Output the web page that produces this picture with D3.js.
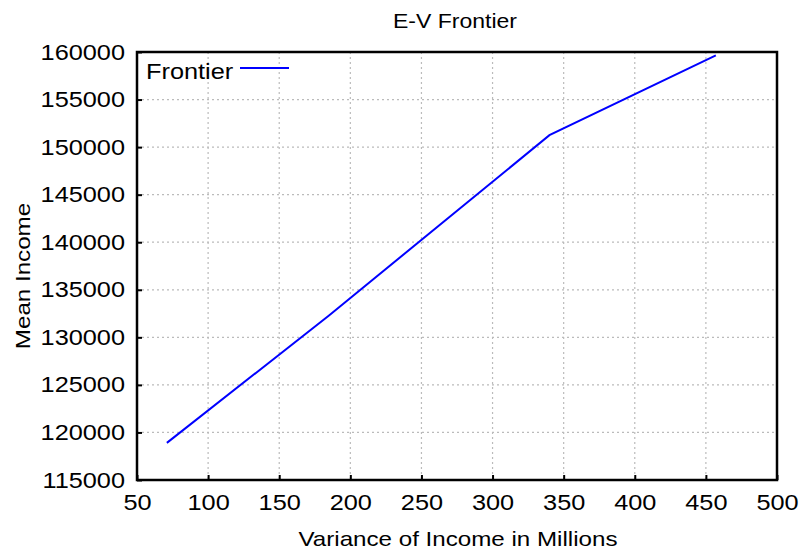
<!DOCTYPE html>
<html>
<head>
<meta charset="utf-8">
<script src="https://cdn.jsdelivr.net/npm/d3@7"></script>
<style>
  body { margin: 0; background: #fff; }
  text { font-family: "Liberation Sans", Arial, sans-serif; fill: #000; }
</style>
</head>
<body>
<svg id="chart" width="800" height="552"></svg>
<script>
const variance = [71, 185, 340, 457];
const meanIncome = [118900, 132300, 151250, 159650];
const xTicks = [50, 100, 150, 200, 250, 300, 350, 400, 450, 500];
const yTicks = [115000, 120000, 125000, 130000, 135000, 140000, 145000, 150000, 155000, 160000];
const seriesName = "Frontier";
const titleText = "E-V Frontier";
const xLabel = "Variance of Income in Millions";
const yLabel = "Mean Income";

const svg = d3.select("#chart");
const m = { left: 137, right: 777, top: 52, bottom: 480 };
const x = d3.scaleLinear().domain([50, 500]).range([m.left, m.right]);
const y = d3.scaleLinear().domain([115000, 160000]).range([m.bottom, m.top]);

// grid
const grid = svg.append("g");
grid.selectAll(".vg").data(xTicks.slice(1, -1)).enter().append("line")
  .attr("x1", d => x(d)).attr("x2", d => x(d))
  .attr("y1", m.top).attr("y2", m.bottom)
  .attr("stroke", "#bbbbbb").attr("stroke-width", 1.2).attr("stroke-dasharray", "2,3");
grid.selectAll(".hg").data(yTicks.slice(1, -1)).enter().append("line")
  .attr("y1", d => y(d)).attr("y2", d => y(d))
  .attr("x1", m.left).attr("x2", m.right)
  .attr("stroke", "#bbbbbb").attr("stroke-width", 1.2).attr("stroke-dasharray", "2,3");

// axes with inward ticks
const fmt = d3.format("d");
const xAxis = d3.axisBottom(x).tickValues(xTicks).tickFormat(fmt).tickSizeInner(-5).tickSizeOuter(0).tickPadding(14);
const yAxis = d3.axisLeft(y).tickValues(yTicks).tickFormat(fmt).tickSizeInner(-5).tickSizeOuter(0).tickPadding(12);
const gx = svg.append("g").attr("transform", `translate(0,${m.bottom})`).call(xAxis);
const gy = svg.append("g").attr("transform", `translate(${m.left},0)`).call(yAxis);
[gx, gy].forEach(g => {
  g.select(".domain").remove();
  g.selectAll(".tick line").attr("stroke", "#000").attr("stroke-width", 2);
  g.selectAll(".tick text").style("font-family", "Liberation Sans, Arial, sans-serif")
    .style("font-size", "22px").attr("fill", "#000");
});
gx.selectAll(".tick text").attr("dy", "0.71em");

// border
svg.append("rect").attr("x", m.left).attr("y", m.top)
  .attr("width", m.right - m.left).attr("height", m.bottom - m.top)
  .attr("fill", "none").attr("stroke", "#000").attr("stroke-width", 2.5);

// line
const pts = variance.map((v, i) => [v, meanIncome[i]]);
svg.append("path").datum(pts)
  .attr("fill", "none").attr("stroke", "#0000ff").attr("stroke-width", 2)
  .attr("d", d3.line().x(d => x(d[0])).y(d => y(d[1])));

// legend
svg.append("text").attr("x", 146).attr("y", 79).style("font-size", "22px").text(seriesName);
svg.append("line").attr("x1", 240).attr("x2", 289).attr("y1", 68).attr("y2", 68)
  .attr("stroke", "#0000ff").attr("stroke-width", 2);

// titles
svg.append("text").attr("x", 455).attr("y", 28).attr("text-anchor", "middle")
  .style("font-size", "20px").text(titleText);
svg.append("text").attr("x", 458).attr("y", 546).attr("text-anchor", "middle")
  .style("font-size", "21px").text(xLabel);
svg.append("text").attr("transform", "translate(30,276) rotate(-90)").attr("text-anchor", "middle")
  .style("font-size", "21px").text(yLabel);

// the reference lettering is slightly wider than Liberation Sans: stretch glyphs
svg.selectAll("text").each(function () {
  const w = this.getComputedTextLength();
  d3.select(this).attr("textLength", w * 1.15).attr("lengthAdjust", "spacingAndGlyphs");
});
</script>
</body>
</html>
